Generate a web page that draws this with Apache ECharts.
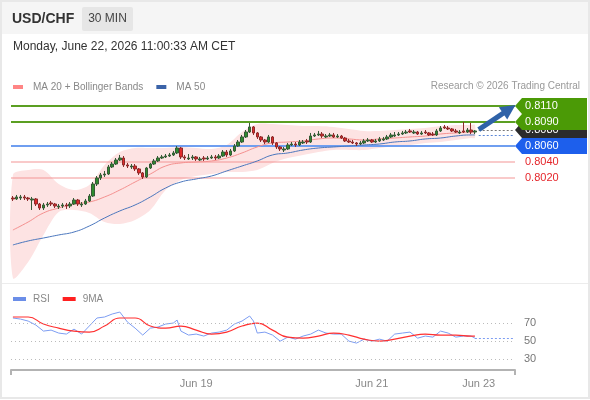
<!DOCTYPE html>
<html>
<head>
<meta charset="utf-8">
<title>USD/CHF 30 MIN</title>
<script src="https://cdn.jsdelivr.net/npm/echarts@6/dist/echarts.min.js"></script>
<style>
  html, body { margin: 0; padding: 0; background: #fff; }
  #chart { width: 590px; height: 400px; }
</style>
</head>
<body>
<div id="chart"></div>
<script>
// ---- data ----
const slotCount = 132;                 // candle slots incl. empty future space
const tickIdx = [48, 94, 122];
const tickLabels = ['Jun 19', 'Jun 21', 'Jun 23'];

const opens = [
  0.79950,0.79938,0.79950,0.79963,0.79950,0.79925,0.79938,0.79875,0.79825,0.79863,
  0.79888,0.79875,0.79838,0.79850,0.79863,0.79850,0.79875,0.79925,0.79863,0.79875,
  0.79913,0.79975,0.80125,0.80200,0.80238,0.80250,0.80338,0.80375,0.80425,0.80450,
  0.80363,0.80338,0.80350,0.80313,0.80263,0.80213,0.80325,0.80375,0.80413,0.80450,
  0.80463,0.80475,0.80488,0.80513,0.80575,0.80463,0.80438,0.80450,0.80463,0.80425,
  0.80450,0.80438,0.80450,0.80463,0.80450,0.80475,0.80525,0.80488,0.80538,0.80600,
  0.80650,0.80713,0.80775,0.80838,0.80763,0.80713,0.80675,0.80650,0.80713,0.80638,
  0.80588,0.80550,0.80563,0.80613,0.80625,0.80613,0.80638,0.80663,0.80650,0.80725,
  0.80738,0.80750,0.80713,0.80725,0.80738,0.80713,0.80725,0.80700,0.80663,0.80650,
  0.80638,0.80625,0.80638,0.80663,0.80675,0.80650,0.80663,0.80675,0.80688,0.80713,
  0.80725,0.80738,0.80750,0.80763,0.80788,0.80763,0.80775,0.80750,0.80775,0.80763,
  0.80750,0.80738,0.80788,0.80838,0.80825,0.80813,0.80788,0.80763,0.80788,0.80775,
  0.80800,0.80775
];
const closes = [
  0.79938,0.79963,0.79963,0.79950,0.79938,0.79938,0.79875,0.79825,0.79863,0.79875,
  0.79875,0.79850,0.79850,0.79863,0.79850,0.79875,0.79925,0.79875,0.79875,0.79913,
  0.79975,0.80125,0.80200,0.80238,0.80250,0.80338,0.80375,0.80425,0.80450,0.80363,
  0.80350,0.80350,0.80313,0.80263,0.80213,0.80325,0.80375,0.80413,0.80450,0.80463,
  0.80475,0.80488,0.80513,0.80575,0.80463,0.80450,0.80450,0.80463,0.80438,0.80438,
  0.80438,0.80450,0.80463,0.80450,0.80475,0.80525,0.80488,0.80538,0.80600,0.80650,
  0.80713,0.80775,0.80838,0.80763,0.80713,0.80675,0.80650,0.80713,0.80638,0.80588,
  0.80563,0.80563,0.80613,0.80625,0.80613,0.80650,0.80650,0.80650,0.80725,0.80738,
  0.80750,0.80725,0.80725,0.80738,0.80713,0.80725,0.80700,0.80663,0.80650,0.80638,
  0.80625,0.80638,0.80663,0.80675,0.80650,0.80663,0.80688,0.80688,0.80713,0.80738,
  0.80738,0.80750,0.80763,0.80775,0.80775,0.80775,0.80750,0.80763,0.80763,0.80738,
  0.80738,0.80788,0.80825,0.80825,0.80813,0.80788,0.80775,0.80775,0.80775,0.80800,
  0.80775,0.80788
];
const highs = [
  0.79975,0.79988,0.79988,0.79988,0.79963,0.79963,0.79950,0.79888,0.79888,0.79900,
  0.79913,0.79888,0.79875,0.79888,0.79888,0.79900,0.79950,0.79938,0.79900,0.79938,
  0.80000,0.80150,0.80225,0.80263,0.80288,0.80363,0.80400,0.80450,0.80488,0.80475,
  0.80388,0.80375,0.80375,0.80325,0.80275,0.80338,0.80388,0.80438,0.80475,0.80488,
  0.80500,0.80513,0.80538,0.80600,0.80588,0.80488,0.80500,0.80488,0.80475,0.80463,
  0.80475,0.80475,0.80488,0.80488,0.80500,0.80550,0.80550,0.80563,0.80625,0.80675,
  0.80738,0.80800,0.80888,0.80850,0.80775,0.80725,0.80688,0.80738,0.80725,0.80650,
  0.80600,0.80588,0.80638,0.80650,0.80650,0.80675,0.80675,0.80688,0.80763,0.80763,
  0.80788,0.80775,0.80750,0.80763,0.80763,0.80750,0.80738,0.80713,0.80688,0.80675,
  0.80650,0.80663,0.80688,0.80700,0.80688,0.80688,0.80713,0.80713,0.80738,0.80763,
  0.80775,0.80775,0.80788,0.80800,0.80813,0.80800,0.80788,0.80788,0.80800,0.80775,
  0.80775,0.80813,0.80850,0.80863,0.80850,0.80825,0.80813,0.80800,0.80900,0.80825,
  0.80888,0.80800
];
const lows = [
  0.79913,0.79925,0.79925,0.79925,0.79913,0.79800,0.79850,0.79800,0.79800,0.79838,
  0.79850,0.79825,0.79813,0.79825,0.79813,0.79825,0.79863,0.79850,0.79838,0.79863,
  0.79900,0.79963,0.80100,0.80175,0.80213,0.80238,0.80325,0.80363,0.80413,0.80338,
  0.80325,0.80313,0.80288,0.80238,0.80188,0.80200,0.80313,0.80363,0.80400,0.80438,
  0.80450,0.80463,0.80475,0.80500,0.80438,0.80425,0.80425,0.80425,0.80413,0.80413,
  0.80413,0.80425,0.80438,0.80425,0.80438,0.80463,0.80463,0.80475,0.80525,0.80588,
  0.80638,0.80700,0.80763,0.80738,0.80688,0.80650,0.80625,0.80638,0.80613,0.80563,
  0.80538,0.80525,0.80550,0.80600,0.80588,0.80600,0.80625,0.80625,0.80638,0.80713,
  0.80725,0.80700,0.80700,0.80713,0.80700,0.80700,0.80688,0.80650,0.80638,0.80625,
  0.80600,0.80613,0.80625,0.80650,0.80638,0.80638,0.80650,0.80663,0.80675,0.80700,
  0.80713,0.80725,0.80738,0.80750,0.80763,0.80750,0.80738,0.80738,0.80750,0.80725,
  0.80725,0.80725,0.80775,0.80813,0.80800,0.80775,0.80763,0.80750,0.80763,0.80763,
  0.80750,0.80750
];

// moving averages and bands, sampled every 4th candle
const maIdx = [0,4,8,12,16,20,24,28,32,36,40,44,48,52,56,60,64,68,72,76,80,84,88,92,96,100,104,108,112,116,120,121];
const ma20 = [0.79550,0.79650,0.79763,0.79825,0.79875,0.79900,0.79963,0.80050,0.80150,0.80250,0.80350,0.80388,
  0.80400,0.80413,0.80450,0.80513,0.80588,0.80638,0.80650,0.80663,0.80688,0.80700,0.80688,0.80675,
  0.80688,0.80700,0.80713,0.80725,0.80750,0.80763,0.80775,0.80775];
const ma50 = [0.79363,0.79413,0.79450,0.79488,0.79525,0.79600,0.79700,0.79788,0.79863,0.79963,0.80075,0.80150,
  0.80188,0.80225,0.80288,0.80350,0.80413,0.80488,0.80513,0.80550,0.80575,0.80588,0.80600,0.80613,
  0.80625,0.80650,0.80663,0.80688,0.80700,0.80725,0.80738,0.80738];
const bbUpper = [0.80238,0.80300,0.80300,0.80125,0.80050,0.80113,0.80363,0.80525,0.80575,0.80575,0.80575,0.80588,
  0.80575,0.80563,0.80613,0.80775,0.80875,0.80875,0.80863,0.80850,0.80850,0.80838,0.80813,0.80788,
  0.80788,0.80800,0.80813,0.80825,0.80850,0.80863,0.80863,0.80863];
const bbLower = [0.78950,0.79150,0.79488,0.79775,0.79800,0.79763,0.79650,0.79625,0.79675,0.79800,0.80050,0.80175,
  0.80225,0.80250,0.80275,0.80275,0.80300,0.80388,0.80450,0.80488,0.80525,0.80550,0.80550,0.80550,
  0.80575,0.80600,0.80613,0.80638,0.80650,0.80675,0.80700,0.80700];

// RSI panel
const rsiIdx = [0,2,4,6,8,10,12,14,16,18,20,22,24,26,28,30,32,34,36,38,40,42,43,44,46,48,50,52,54,56,58,60,62,63,
  64,66,68,70,72,74,76,78,80,82,84,86,88,90,92,94,96,98,100,102,104,106,108,110,112,114,116,118,120,121];
const rsiVals = [75.6,74.4,72.2,67.8,61.1,62.2,58.9,57.8,63.3,57.8,66.7,75.6,76.7,80.0,82.2,71.1,64.4,56.7,64.4,65.6,
  68.9,70.0,73.3,61.1,56.7,57.8,55.6,58.9,60.0,62.2,68.9,72.2,77.8,72.2,58.9,60.0,56.7,50.0,54.4,52.2,
  55.6,57.8,62.2,58.9,57.8,57.8,50.0,47.8,52.2,50.0,52.2,50.0,57.8,58.9,60.0,53.3,55.6,54.4,61.1,58.9,
  54.4,55.6,55.6,53.3];
const rsiMa9 = [76.7,76.7,68.9,64.4,61.1,60.0,66.7,75.6,75.6,66.7,64.4,66.7,62.2,57.8,60.0,66.7,70.0,62.2,54.4,53.3,
  55.6,58.9,56.7,52.2,50.0,52.2,55.6,57.8,56.7,56.7,55.6,55.6];
const rsiLevels = [70, 50, 30];

// price levels on the right
const levels = [0.8110, 0.8090, 0.8080, 0.8060, 0.8040, 0.8020];
const levelKinds = ['res', 'res', 'last', 'pivot', 'sup', 'sup'];
const arrowFrom = [122.4, 0.80805];
const arrowTo = [129.5, 0.81060];

// ---- styles ----
const FONT = 'Arial, "Liberation Sans", sans-serif';
const levelStyle = {
  res:   { line: '#5b9f22', lineWidth: 2, box: '#4b9a06', text: '#fff', z2: 3 },
  last:  { line: null, box: '#2b2b2b', text: '#fff', z2: 1 },
  pivot: { line: '#6f9ef0', lineWidth: 2, box: '#1d5fec', text: '#fff', z2: 3 },
  sup:   { line: '#f39696', lineWidth: 1.2, box: null, text: '#e5262b', z2: 3 }
};

const cats = Array.from({ length: slotCount }, (_, i) => String(i));
const candles = opens.map((o, i) => [o, closes[i], lows[i], highs[i]]);
const pairs = (idx, vals) => idx.map((x, k) => [x, vals[k]]);
const lastIndex = closes.length - 1;

const chart = echarts.init(document.getElementById('chart'));
chart.setOption({
  animation: false,
  textStyle: { fontFamily: FONT },
  graphic: [
    { type: 'rect', shape: { x: 0, y: 0, width: 590, height: 34 }, style: { fill: '#f5f5f5' } },
    { type: 'rect', shape: { x: 82, y: 7, width: 51, height: 24, r: 2 }, style: { fill: '#e6e6e6' } },
    { type: 'text', x: 12, y: 19, style: { text: 'USD/CHF', font: 'bold 14px ' + FONT, fill: '#333', verticalAlign: 'middle' } },
    { type: 'text', x: 107.5, y: 19, style: { text: '30 MIN', font: '12px ' + FONT, fill: '#444', align: 'center', verticalAlign: 'middle' } },
    { type: 'text', x: 13, y: 47, style: { text: 'Monday, June 22, 2026 11:00:33 AM CET', font: '12px ' + FONT, fill: '#333', verticalAlign: 'middle' } },
    { type: 'text', x: 580, y: 86, style: { text: 'Research \u00a9 2026 Trading Central', font: '10px ' + FONT, fill: '#999', align: 'right', verticalAlign: 'middle' } },
    { type: 'line', shape: { x1: 0, y1: 283.5, x2: 590, y2: 283.5 }, style: { stroke: '#ececec', lineWidth: 1 } },
    { type: 'rect', shape: { x: 1, y: 1, width: 588, height: 397 }, style: { fill: 'none', stroke: '#e8e8e8', lineWidth: 2 } }
  ],
  legend: [
    {
      left: 13, top: 82, padding: 0, icon: 'rect', itemWidth: 10, itemHeight: 4, itemGap: 13,
      selectedMode: false,
      textStyle: { fontSize: 10, color: '#888', padding: [0, 0, 0, 5] },
      data: [
        { name: 'MA 20 + Bollinger Bands', itemStyle: { color: '#ff8585' } },
        { name: 'MA 50', itemStyle: { color: '#3b63a8' } }
      ]
    },
    {
      left: 13, top: 294, padding: 0, icon: 'rect', itemWidth: 13, itemHeight: 4, itemGap: 13,
      selectedMode: false,
      textStyle: { fontSize: 10, color: '#888', padding: [0, 0, 0, 2] },
      data: [
        { name: 'RSI', itemStyle: { color: '#6b8ee8' } },
        { name: '9MA', itemStyle: { color: '#ff2020' } }
      ]
    }
  ],
  grid: [
    { left: 11, right: 75, top: 100, height: 180 },
    { left: 11, right: 75, top: 305, height: 65 }
  ],
  xAxis: [
    { type: 'category', gridIndex: 0, data: cats, show: false },
    {
      type: 'category', gridIndex: 1, data: cats, position: 'bottom',
      axisLine: { show: false }, axisTick: { show: false },
      axisLabel: {
        interval: (i) => tickIdx.includes(i),
        formatter: (v, i) => tickLabels[tickIdx.indexOf(i)] || '',
        color: '#888', fontSize: 11, margin: 8
      }
    },
    {
      type: 'value', gridIndex: 1, min: 0, max: 1, interval: 1, position: 'bottom',
      axisLine: { lineStyle: { color: '#b3b3b3', width: 2 } },
      axisTick: { length: 5, lineStyle: { color: '#b3b3b3', width: 2 } },
      axisLabel: { show: false }, splitLine: { show: false }
    }
  ],
  yAxis: [
    { type: 'value', gridIndex: 0, min: 0.78925, max: 0.81175, show: false },
    { type: 'value', gridIndex: 1, min: 18, max: 90, show: false }
  ],
  series: [
    {
      // bollinger band fill
      type: 'custom', name: 'band', xAxisIndex: 0, yAxisIndex: 0, z: 1, silent: true,
      data: [[0, bbUpper[0]]],
      renderItem: (params, api) => {
        const up = maIdx.map((x, k) => api.coord([x, bbUpper[k]]));
        const lo = maIdx.map((x, k) => api.coord([x, bbLower[k]])).reverse();
        return {
          type: 'polygon',
          shape: { points: up.concat(lo), smooth: 0.3 },
          style: { fill: '#fde3e3' }
        };
      }
    },
    {
      // support / resistance levels and their tags
      type: 'custom', name: 'levels', xAxisIndex: 0, yAxisIndex: 0, z: 1.5, silent: true, clip: false,
      data: levels.map((v) => [0, v]),
      renderItem: (params, api) => {
        const i = params.dataIndex;
        const st = levelStyle[levelKinds[i]];
        const cs = params.coordSys;
        const y = api.coord([0, api.value(1)])[1];
        const xr = cs.x + cs.width;
        const children = [];
        if (st.line) {
          children.push({ type: 'line', shape: { x1: cs.x, y1: y, x2: xr, y2: y },
            style: { stroke: st.line, lineWidth: st.lineWidth } });
        }
        if (st.box) {
          children.push({ type: 'polygon', z2: st.z2,
            shape: { points: [[xr, y], [xr + 7, y - 8], [xr + 72, y - 8], [xr + 72, y + 8], [xr + 7, y + 8]] },
            style: { fill: st.box } });
        }
        children.push({ type: 'text', z2: st.z2 + 1,
          style: { text: levels[i].toFixed(4), x: xr + 10, y: y, verticalAlign: 'middle',
            fill: st.text, font: '11px ' + FONT } });
        return { type: 'group', children };
      }
    },
    {
      type: 'candlestick', name: 'USD/CHF', xAxisIndex: 0, yAxisIndex: 0, z: 3,
      data: candles, barWidth: 3,
      itemStyle: { color: '#2e8b2e', color0: '#e02a2a', borderColor: '#375a37', borderColor0: '#8c2a2a', borderWidth: 1 },
      markLine: {
        silent: true, symbol: 'none', label: { show: false },
        data: [
          [{ coord: [lastIndex + 1, levels[2]], lineStyle: { color: '#777', type: [2, 2], width: 1 } },
           { coord: [slotCount - 1, levels[2]] }],
          [{ coord: [lastIndex + 1, ma50[ma50.length - 1]], lineStyle: { color: '#5b86d6', type: [2, 2], width: 1 } },
           { coord: [slotCount - 1, ma50[ma50.length - 1]] }],
          [{ coord: arrowFrom, symbol: 'none', lineStyle: { color: '#2f62a8', width: 5, type: 'solid' } },
           { coord: arrowTo, symbol: 'triangle', symbolSize: 15 }]
        ]
      }
    },
    {
      type: 'line', name: 'MA 20 + Bollinger Bands', xAxisIndex: 0, yAxisIndex: 0, z: 2,
      data: pairs(maIdx, ma20), smooth: true, showSymbol: false, silent: true,
      lineStyle: { color: '#f5908f', width: 1 }, itemStyle: { color: '#ff8585' }
    },
    {
      type: 'line', name: 'MA 50', xAxisIndex: 0, yAxisIndex: 0, z: 2,
      data: pairs(maIdx, ma50), smooth: true, showSymbol: false, silent: true,
      lineStyle: { color: '#4a76bd', width: 1 }, itemStyle: { color: '#3b63a8' }
    },
    {
      type: 'line', name: 'RSI', xAxisIndex: 1, yAxisIndex: 1,
      data: pairs(rsiIdx, rsiVals), showSymbol: false, silent: true,
      lineStyle: { color: '#7d9df2', width: 1 }, itemStyle: { color: '#6b8ee8' },
      markLine: {
        silent: true, symbol: 'none',
        data: rsiLevels.map((v) => ({
          yAxis: v,
          lineStyle: { color: '#bbb', type: [1, 3], width: 1 },
          label: { show: true, position: 'end', formatter: String(v), color: '#777', fontSize: 11, distance: 9 }
        })).concat([[
          { coord: [lastIndex, rsiVals[rsiVals.length - 1]], lineStyle: { color: '#7d9df2', type: [2, 2], width: 1 }, label: { show: false } },
          { coord: [slotCount - 1, rsiVals[rsiVals.length - 1]] }
        ]])
      }
    },
    {
      type: 'line', name: '9MA', xAxisIndex: 1, yAxisIndex: 1,
      data: pairs(maIdx, rsiMa9), smooth: true, showSymbol: false, silent: true,
      lineStyle: { color: '#ff3030', width: 1.2 }, itemStyle: { color: '#ff2020' }
    }
  ]
});
</script>
</body>
</html>
